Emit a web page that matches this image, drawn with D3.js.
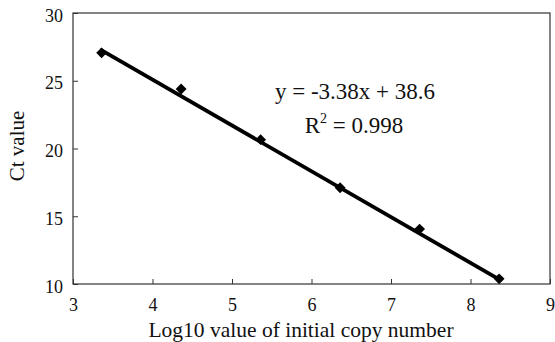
<!DOCTYPE html>
<html>
<head>
<meta charset="utf-8">
<script src="https://cdn.jsdelivr.net/npm/d3@7"></script>
<style>
body { margin: 0; background: #fff; }
text { font-family: "Liberation Serif", "DejaVu Serif", serif; fill: #111; }
</style>
</head>
<body>
<svg id="chart"></svg>
<script>
// log10 copy number vs Ct
const logCopies = [3.36, 4.36, 5.36, 6.36, 7.36, 8.36]
const ctValues = [27.06, 24.39, 20.65, 17.1, 14.05, 10.38]
const xTicks = [3, 4, 5, 6, 7, 8, 9]
const yTicks = [10, 15, 20, 25, 30]
const slope = -3.38
const intercept = 38.6

const width = 555, height = 342
const margin = {top: 13, right: 4, bottom: 58, left: 73}

const svg = d3.select("#chart")
    .attr("width", width)
    .attr("height", height)

const x = d3.scaleLinear().domain([3, 9]).range([margin.left, width - margin.right - 1])
const y = d3.scaleLinear().domain([10, 30]).range([height - margin.bottom, margin.top])

// frame
svg.append("rect")
    .attr("x", x(3)).attr("y", y(30))
    .attr("width", x(9) - x(3)).attr("height", y(10) - y(30))
    .attr("fill", "none").attr("stroke", "#333").attr("stroke-width", 1.2)

const xAxis = svg.append("g")
    .attr("transform", `translate(0,${y(10)})`)
    .call(d3.axisBottom(x).tickValues(xTicks).tickFormat(d3.format("d")).tickSizeInner(-5).tickSizeOuter(0).tickPadding(14))
xAxis.select(".domain").remove()
xAxis.selectAll("line").attr("stroke", "#333")
xAxis.selectAll("text").attr("font-size", 18).attr("font-family", "Liberation Serif")

const yAxis = svg.append("g")
    .attr("transform", `translate(${x(3)},0)`)
    .call(d3.axisLeft(y).tickValues(yTicks).tickSizeInner(-5).tickSizeOuter(0).tickPadding(10))
yAxis.select(".domain").remove()
yAxis.selectAll("line").attr("stroke", "#333")
yAxis.selectAll("text").attr("font-size", 18).attr("font-family", "Liberation Serif").attr("dy", "0.45em")

// axis titles
svg.append("text")
    .attr("x", 301).attr("y", 337)
    .attr("text-anchor", "middle").attr("font-size", 21.5)
    .text("Log10 value of initial copy number")

svg.append("text")
    .attr("transform", `translate(24,146) rotate(-90)`)
    .attr("text-anchor", "middle").attr("font-size", 21)
    .text("Ct value")

// trend line
const x0 = d3.min(logCopies) - 0.02, x1 = d3.max(logCopies)
svg.append("line")
    .attr("x1", x(x0)).attr("y1", y(slope * x0 + intercept))
    .attr("x2", x(x1)).attr("y2", y(slope * x1 + intercept))
    .attr("stroke", "#000").attr("stroke-width", 3.8)

// markers
svg.append("g")
    .selectAll("path")
    .data(logCopies)
    .enter()
    .append("path")
    .attr("d", d3.symbol(d3.symbolDiamond2, 75))
    .attr("transform", (d, i) => `translate(${x(d)},${y(ctValues[i])})`)
    .attr("fill", "#000")

// equation
svg.append("text")
    .attr("x", 355).attr("y", 99)
    .attr("text-anchor", "middle").attr("font-size", 23)
    .text(`y = ${slope}x + ${intercept}`)

const r2 = svg.append("text")
    .attr("x", 354).attr("y", 133)
    .attr("text-anchor", "middle").attr("font-size", 23)
r2.append("tspan").text("R")
r2.append("tspan").attr("font-size", 14).attr("dy", -10).text("2")
r2.append("tspan").attr("dy", 10).text(" = 0.998")
</script>
</body>
</html>
